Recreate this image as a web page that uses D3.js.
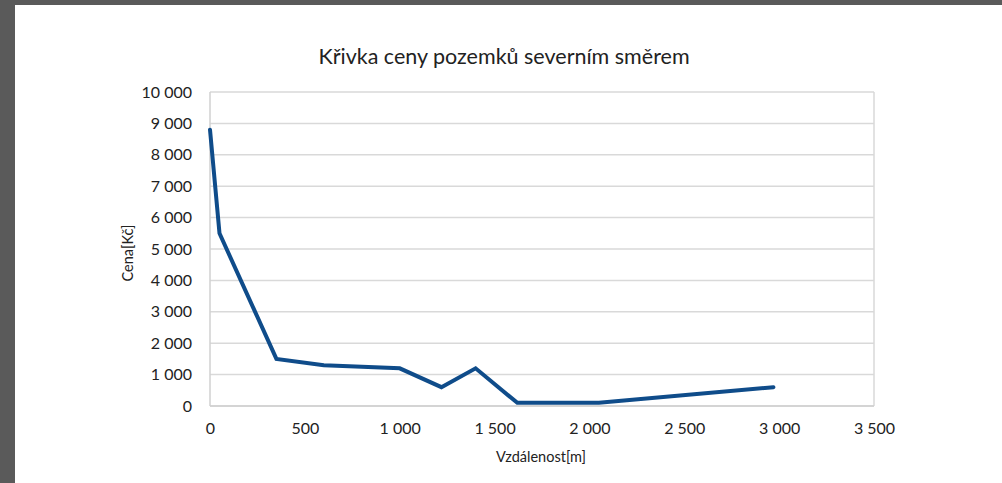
<!DOCTYPE html>
<html><head><meta charset="utf-8">
<script src="https://cdn.jsdelivr.net/npm/d3@7"></script>
<style>
html,body{margin:0;padding:0;background:#fff;}
svg{display:block;}
text{font-family:Lato,"Open Sans",sans-serif;fill:#222;}
</style></head>
<body>
<svg id="c" width="1002" height="483"></svg>
<script>
const distances = [0, 50, 350, 600, 1000, 1220, 1400, 1620, 2050, 2970];
const prices = [8800, 5500, 1500, 1300, 1200, 600, 1200, 100, 100, 600];
const xTicks = [0, 500, 1000, 1500, 2000, 2500, 3000, 3500];
const yTicks = [0, 1000, 2000, 3000, 4000, 5000, 6000, 7000, 8000, 9000, 10000];
const title = "Křivka ceny pozemků severním směrem";
const xTitle = "Vzdálenost[m]";
const yTitle = "Cena[Kč]";

const svg = d3.select("#c");
svg.append("rect").attr("x",0).attr("y",0).attr("width",1002).attr("height",483).attr("fill","#fff");
svg.append("rect").attr("x",0).attr("y",0).attr("width",1002).attr("height",5).attr("fill","#5a5a5a");
svg.append("rect").attr("x",0).attr("y",0).attr("width",15).attr("height",483).attr("fill","#5a5a5a");

const L = 210, R = 874, T = 92, B = 406;
const x = d3.scaleLinear().domain([0, 3500]).range([L, R]);
const y = d3.scaleLinear().domain([0, 10000]).range([B, T]);
const fmt = v => d3.format(",")(v).replace(/,/g, " ");

svg.append("g").selectAll("line").data(yTicks).join("line")
  .attr("x1", L).attr("x2", R).attr("y1", d => y(d)).attr("y2", d => y(d))
  .attr("stroke", "#d9d9d9").attr("stroke-width", 1.5);
svg.append("line").attr("x1",L).attr("x2",L).attr("y1",T).attr("y2",B).attr("stroke","#d0d0d0").attr("stroke-width",1.5);
svg.append("line").attr("x1",R).attr("x2",R).attr("y1",T).attr("y2",B).attr("stroke","#d9d9d9").attr("stroke-width",1.5);
svg.append("line").attr("x1",L).attr("x2",R).attr("y1",B).attr("y2",B).attr("stroke","#cfcfcf").attr("stroke-width",1.5);

const yAxis = svg.append("g").attr("transform", `translate(${L},0)`)
  .call(d3.axisLeft(y).tickValues(yTicks).tickFormat(fmt).tickSize(0).tickPadding(18));
yAxis.select(".domain").remove();
yAxis.selectAll("text").attr("font-size", 16).attr("font-family", "Lato, sans-serif").attr("fill","#1a1a1a");

const xAxis = svg.append("g").attr("transform", `translate(0,${B})`)
  .call(d3.axisBottom(x).tickValues(xTicks).tickFormat(fmt).tickSize(0).tickPadding(17));
xAxis.select(".domain").remove();
xAxis.selectAll("text").attr("font-size", 16).attr("font-family", "Lato, sans-serif").attr("fill","#1a1a1a");

const line = d3.line().x((d,i) => x(distances[i])).y((d,i) => y(prices[i]));
svg.append("path").datum(prices).attr("d", line)
  .attr("fill","none").attr("stroke","#0f4c8a").attr("stroke-width",4)
  .attr("stroke-linejoin","miter").attr("stroke-linecap","round");

svg.append("text").attr("x", 504).attr("y", 64).attr("text-anchor","middle")
  .attr("font-size", 21.5).text(title);
svg.append("text").attr("x", 541).attr("y", 462).attr("text-anchor","middle")
  .attr("font-size", 14.5).text(xTitle);
svg.append("text").attr("transform","translate(133,253) rotate(-90)").attr("text-anchor","middle")
  .attr("font-size", 14.5).text(yTitle);
</script>
</body></html>
